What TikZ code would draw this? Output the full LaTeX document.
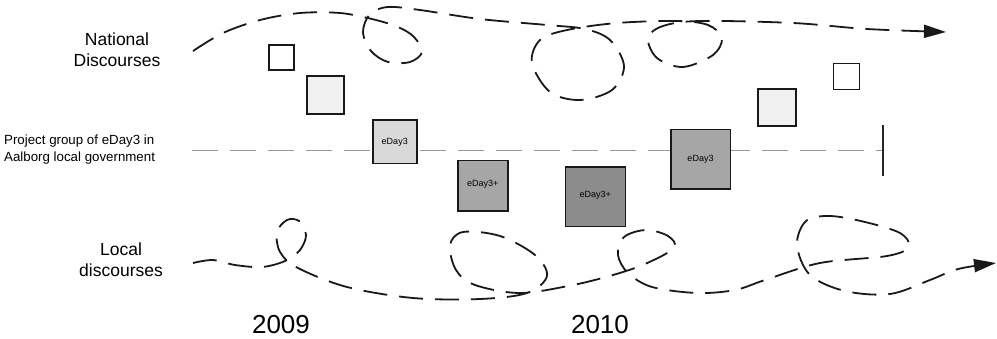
\documentclass[tikz,border=0pt]{standalone}
\usepackage{fontspec}
\setmainfont{Liberation Sans}
\usetikzlibrary{arrows.meta}
\definecolor{boxA}{HTML}{F0F0F0}
\definecolor{boxB}{HTML}{D9D9D9}
\definecolor{boxC}{HTML}{A6A6A6}
\definecolor{boxD}{HTML}{8C8C8C}
\definecolor{lineG}{HTML}{9A9A9A}
\tikzset{
  stage/.style={draw=black!90, line width=1.5pt, anchor=north west, inner sep=0pt},
  stagetext/.style={font=\fontsize{9}{10}\selectfont},
  wander/.style={draw=black!90, line width=1.8pt, dash pattern=on 24pt off 12pt,
                 -{Triangle[length=22pt,width=13pt]}},
  heading/.style={align=center, font=\fontsize{17.5}{21}\selectfont, inner sep=0pt},
  year/.style={font=\fontsize{26}{28}\selectfont, inner sep=0pt}
}
\begin{document}
\begin{tikzpicture}[x=1pt,y=-1pt]
\useasboundingbox (0,0) rectangle (997,338);

% group timeline
\coordinate (gl) at (192,150.5);
\coordinate (gr) at (883,150.5);
\draw[lineG, line width=1.6pt, dash pattern=on 26pt off 12pt] (gl) -- (gr);
\coordinate (et) at (883,125);
\coordinate (eb) at (883,176);
\draw[black!85, line width=1.6pt] (et) -- (eb);

% labels
\node[heading] (nat) at (117,49.5) {National\\Discourses};
\node[heading] (loc) at (121,259.5) {Local\\discourses};
\node[align=left, anchor=west, inner sep=0pt, font=\fontsize{13.3}{16.5}\selectfont] (grp) at (4,149.5)
  {Project group of eDay3 in\\Aalborg local government};
\node[year] (y1) at (281,325) {2009};
\node[year] (y2) at (600,325) {2010};

% stage boxes
\node[stage, fill=white, minimum width=25pt, minimum height=25pt] (b1) at (268,44) {};
\node[stage, fill=boxA, minimum width=37pt, minimum height=38pt] (b2) at (306,75) {};
\node[stage, fill=boxB, minimum width=44pt, minimum height=43.5pt] (b3) at (372,119) {};
\node[stagetext, yshift=-1pt] (t3) at (b3.center) {eDay3};
\node[stage, fill=boxC, minimum width=50pt, minimum height=50.5pt] (b4) at (457,159.5) {};
\node[stagetext, yshift=1pt] (t4) at (b4.center) {eDay3+};
\node[stage, fill=boxD, minimum width=60pt, minimum height=59.5pt] (b5) at (564.5,166) {};
\node[stagetext, yshift=1pt] (t5) at (b5.center) {eDay3+};
\node[stage, fill=boxC, minimum width=59.5pt, minimum height=59.5pt] (b6) at (670,128.5) {};
\node[stagetext] (t6) at (b6.center) {eDay3};
\node[stage, fill=boxA, minimum width=38pt, minimum height=37pt] (b7) at (757,88) {};
\node[stage, fill=white, minimum width=26pt, minimum height=26pt] (b8) at (832.5,62.5) {};

% national discourse thread
\draw[wander] plot[smooth, tension=0.55] coordinates {
  (193,51) (223,33) (260,20) (300,13) (340,13) (372,19) (398,27) (414,37)
  (422,52) (410,62) (388,62) (371,51) (363,32) (370,14) (388,7) (420,10)
  (480,19) (547,25) (585,29) (610,40) (624,66) (612,90) (580,100) (550,92)
  (532,63) (540,40) (567,30) (617,23) (677,21) (708,25) (722,38) (713,55)
  (683,67) (657,58) (648,38) (663,26) (700,21) (793,23) (867,29) (946,32)};

% local discourse thread
\draw[wander] plot[smooth, tension=0.55] coordinates {
  (193,263) (213,260) (235,265) (262,267) (285,261) (300,250) (306,235)
  (299,221) (287,220) (277,232) (280,252) (298,268) (347,287) (413,298)
  (480,299) (527,293) (547,276) (535,255) (500,236) (463,232) (450,245)
  (456,270) (475,285) (520,293) (573,285) (613,275) (645,264) (674,248)
  (668,236) (646,230) (624,237) (618,255) (628,273) (652,287) (697,293)
  (735,290) (765,280) (820,263) (887,256) (909,247) (900,233) (865,222)
  (830,216) (806,221) (797,245) (810,275) (845,291) (890,294) (930,280)
  (958,269) (996,263)};
\end{tikzpicture}
\end{document}
